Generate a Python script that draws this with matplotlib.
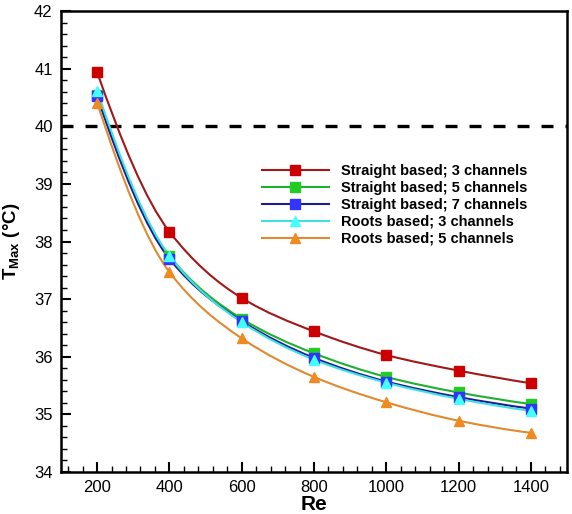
import numpy as np
import matplotlib.pyplot as plt
from matplotlib.path import Path
from matplotlib.patches import PathPatch
from matplotlib.lines import Line2D
from matplotlib.ticker import MultipleLocator

plt.rcParams['font.family'] = ['Liberation Sans', 'DejaVu Sans']
plt.rcParams['mathtext.fontset'] = 'custom'
plt.rcParams['mathtext.bf'] = 'Liberation Sans:bold'
plt.rcParams['mathtext.rm'] = 'Liberation Sans'

# ---------------------------------------
# Data
# ---------------------------------------
re_vals = [200, 400, 600, 800, 1000, 1200, 1400]

straight_3 = [40.94, 38.17, 37.02, 36.44, 36.03, 35.76, 35.54]
straight_5 = [40.55, 37.75, 36.66, 36.06, 35.65, 35.38, 35.18]
straight_7 = [40.52, 37.70, 36.62, 35.98, 35.57, 35.30, 35.10]
roots_3 = [40.62, 37.75, 36.60, 35.95, 35.55, 35.27, 35.06]
roots_5 = [40.41, 37.47, 36.32, 35.65, 35.21, 34.89, 34.68]

labels = ["Straight based; 3 channels", "Straight based; 5 channels",
          "Straight based; 7 channels", "Roots based; 3 channels",
          "Roots based; 5 channels"]
series = [straight_3, straight_5, straight_7, roots_3, roots_5]
line_colors = ["#a01818", "#20b030", "#1c1c90", "#40e0e0", "#e08a30"]
marker_colors = ["#cc0000", "#22cc22", "#3333ff", "#44ffff", "#f08a20"]
markers = ["s", "s", "s", "^", "^"]


def smooth_path(x, y):
    # shape-preserving cubic (PCHIP tangents) through the points, as a Bezier path
    x = np.asarray(x, float)
    y = np.asarray(y, float)
    n = len(x)
    h = np.diff(x)
    d = np.diff(y) / h
    m = np.zeros(n)
    for i in range(1, n - 1):
        if d[i - 1] * d[i] > 0:
            w1 = 2 * h[i] + h[i - 1]
            w2 = h[i] + 2 * h[i - 1]
            m[i] = (w1 + w2) / (w1 / d[i - 1] + w2 / d[i])
    m[0] = ((2 * h[0] + h[1]) * d[0] - h[0] * d[1]) / (h[0] + h[1])
    m[-1] = ((2 * h[-1] + h[-2]) * d[-1] - h[-1] * d[-2]) / (h[-1] + h[-2])
    verts = [(x[0], y[0])]
    codes = [Path.MOVETO]
    for i in range(n - 1):
        verts += [(x[i] + h[i] / 3, y[i] + m[i] * h[i] / 3),
                  (x[i + 1] - h[i] / 3, y[i + 1] - m[i + 1] * h[i] / 3),
                  (x[i + 1], y[i + 1])]
        codes += [Path.CURVE4] * 3
    return Path(verts, codes)


fig = plt.figure(figsize=(5.72, 5.14), dpi=100)
ax = fig.add_axes([0.1066, 0.0817, 0.8847, 0.8969])

handles = []
for ys, lab, lc, mc, mk in zip(series, labels, line_colors, marker_colors, markers):
    ax.add_patch(PathPatch(smooth_path(re_vals, ys), facecolor="none",
                           edgecolor=lc, lw=1.5, zorder=2))
    ax.plot(re_vals, ys, ls="none", marker=mk, ms=7.5, mfc=mc, mec=mc, zorder=3)
    handles.append(Line2D([], [], color=lc, lw=1.5, marker=mk, ms=7.5,
                          mfc=mc, mec=mc))

ax.axhline(40, color="black", lw=2.4, ls=(0, (3.6, 3.6)), zorder=1)

ax.set_xlim(100, 1500)
ax.set_ylim(34, 42)
ax.xaxis.set_major_locator(MultipleLocator(200))
ax.xaxis.set_minor_locator(MultipleLocator(40))
ax.yaxis.set_major_locator(MultipleLocator(1))
ax.yaxis.set_minor_locator(MultipleLocator(0.2))
ax.tick_params(which="both", direction="in", top=False, right=False,
               labelsize=12, width=1.5, pad=6)
ax.tick_params(which="major", length=7)
ax.tick_params(which="minor", length=4, width=1)
for sp in ax.spines.values():
    sp.set_linewidth(1.8)

ax.set_xlabel("Re", fontsize=15, fontweight="bold", labelpad=0)
ax.set_ylabel(r"$\mathbf{T_{Max}}$ (°C)", fontsize=13.5, fontweight="bold", labelpad=9)

leg = ax.legend(handles, labels, loc="upper left", bbox_to_anchor=(0.397, 0.668),
                frameon=False, fontsize=10.5, handlelength=4.6, handletextpad=0.8,
                labelspacing=0.2, numpoints=1, borderpad=0, borderaxespad=0)
for t in leg.get_texts():
    t.set_fontweight("bold")

fig.savefig("out.png", dpi=100)
